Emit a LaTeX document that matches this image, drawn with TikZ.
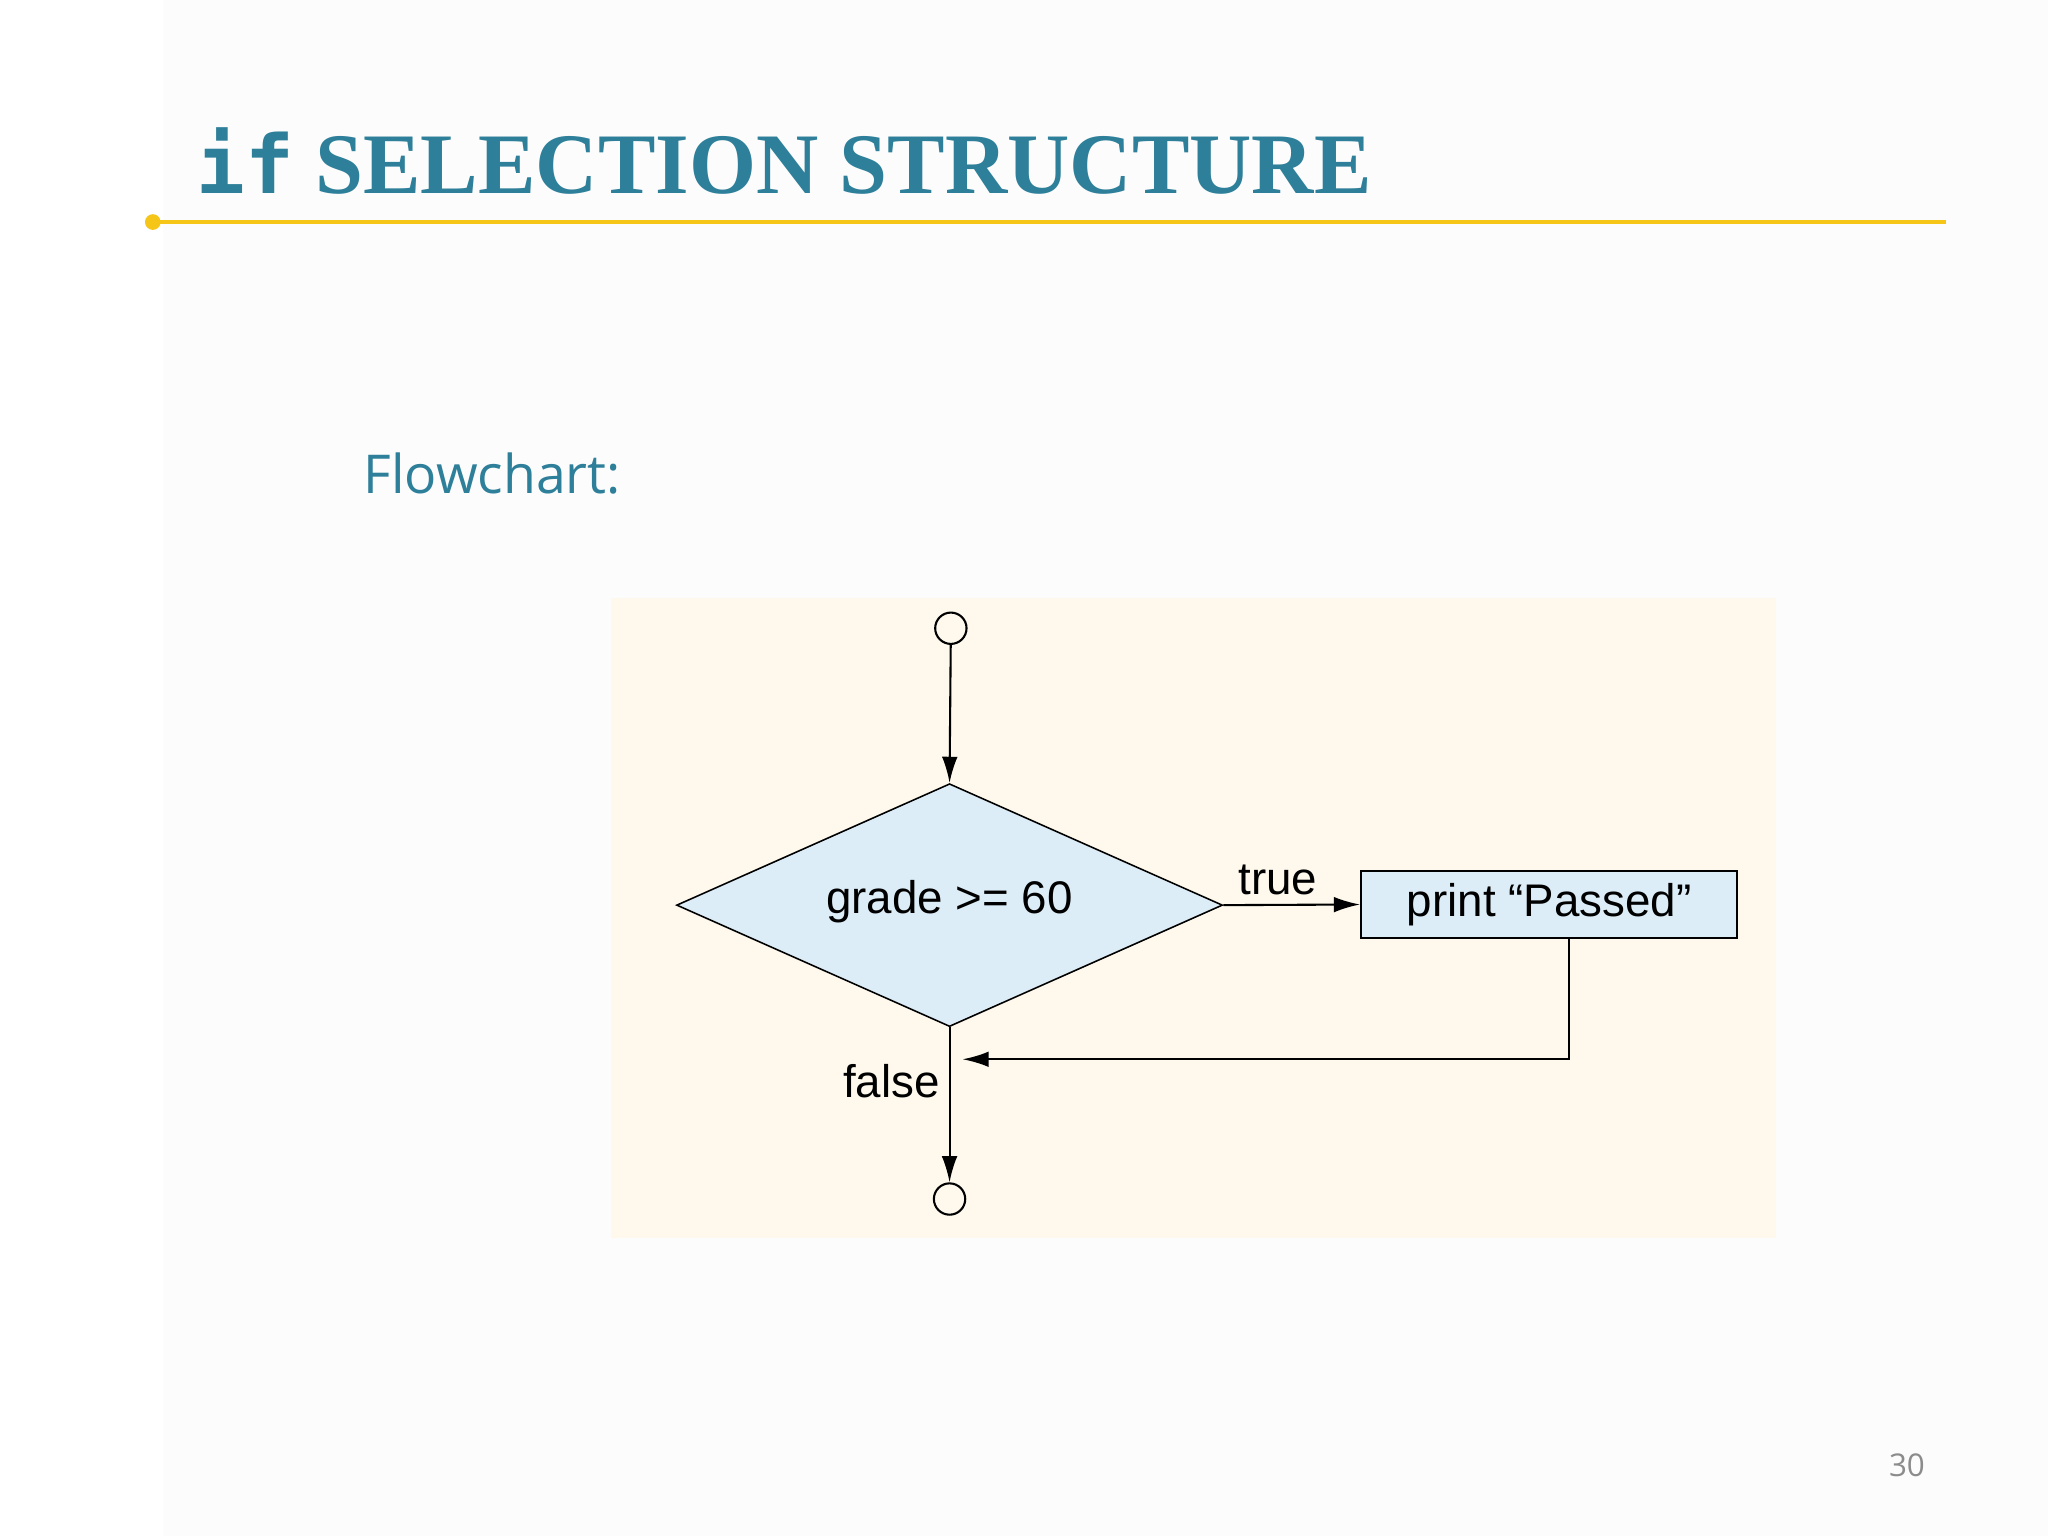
\documentclass[tikz,border=0pt]{standalone}
\usepackage{fontspec}
\setmainfont{Liberation Serif}
\setsansfont{Liberation Sans}
\newfontfamily\slidefont{Open Sans}
\newfontfamily\titlemono{DejaVu Sans Mono}
\usetikzlibrary{shapes.geometric,arrows.meta}
\definecolor{teal}{HTML}{2E7F9A}
\definecolor{gold}{HTML}{F5C518}
\definecolor{beige}{HTML}{FEF9EC}
\definecolor{lblue}{HTML}{DCEDF8}
\tikzset{
  flow/.style={line width=0.8pt,-{Latex[length=10pt,width=6pt]}},
  term/.style={circle,draw,line width=0.8pt,minimum size=12pt,inner sep=0pt},
  lbl/.style={font=\sffamily\fontsize{17.5}{17.5}\selectfont}
}
\begin{document}
\begin{tikzpicture}[x=0.5pt,y=-0.5pt]
\useasboundingbox (0,0) rectangle (1568,1176);
\fill[white] (0,0) rectangle (1568,1176);
\fill[black!1] (125,0) rectangle (1568,1176);
\node[anchor=base west,text=teal,inner sep=0,font=\bfseries\fontsize{33}{33}\selectfont] (title) at (150,148) {{\titlemono\bfseries\fontsize{31}{31}\selectfont if} SELECTION STRUCTURE};
\draw[gold,line width=1.2pt] (117,170) -- (1490,170);
\fill[gold] (117,170) circle (6);
\node[anchor=base west,text=teal,inner sep=0,font=\slidefont\fontsize{20.5}{20.5}\selectfont] (fc) at (278,378) {Flowchart:};
\fill[beige] (468,458) rectangle (1360,948);
\node[term] (start) at (728,481) {};
\node[diamond,draw,fill=lblue,line width=0.6pt,aspect=2.2,minimum width=209pt,minimum height=93pt,inner sep=0pt] (dec) at (727,693) {};
\node[lbl] at (727,690) {grade >= 60};
\node[draw,fill=lblue,line width=0.8pt,minimum width=144pt,minimum height=25.5pt,inner sep=0pt,lbl] (box) at (1186,692.5) {print “Passed”};
\node[term] (end) at (727,918) {};
\draw[flow] (start) -- (dec.north);
\draw[flow] (dec.east) -- node[above,lbl,pos=0.4]{true} (box.west);
\coordinate (c1) at (1201,811);
\coordinate (c2) at (737,811);
\draw[flow] (box.south -| c1) -- (c1) -- (c2);
\draw[flow] (dec.south) -- node[left,lbl,pos=0.35]{false} (end.north);
\node[text=black!45,font=\slidefont\fontsize{12}{12}\selectfont] (pg) at (1460,1122) {30};
\end{tikzpicture}
\end{document}
